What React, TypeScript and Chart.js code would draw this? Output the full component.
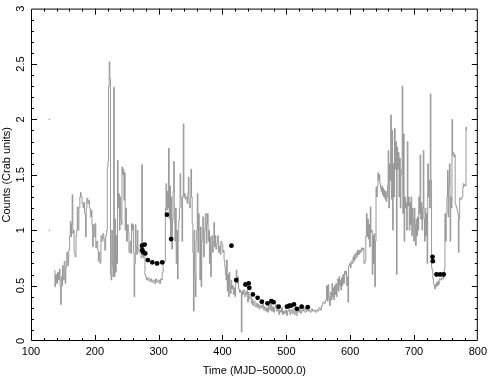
import React, { useEffect, useRef } from 'react';
import { Chart, registerables } from 'chart.js';

Chart.register(...registerables);

const xTickValues = [100, 200, 300, 400, 500, 600, 700, 800];
const yTickLabels = ['0', '0.5', '1', '1.5', '2', '2.5', '3'];
const xTitle = 'Time (MJD\u221250000.0)';
const yTitle = 'Counts (Crab units)';

// [MJD-50000, counts in Crab units]
const lightCurve: [number, number][] = [
  [137, 0.64], [138, 0.49], [139, 0.6], [141, 0.52], [142, 0.62], [144, 0.55], [145, 0.65], [146, 0.5],
  [147, 0.33], [148, 0.58], [149, 0.5], [150, 0.68], [151, 0.55], [153, 0.72], [154, 0.52], [155, 0.66],
  [157, 0.8], [158, 0.68], [160, 0.82], [161, 0.95], [162, 1.08], [163, 0.94], [164, 1.05], [165, 1.32],
  [166, 0.97], [167, 1.0], [168, 0.8], [170, 0.76], [171, 0.95], [172, 1.0], [173, 1.21], [174, 1.0],
  [176, 1.2], [177, 1.3], [178, 1.34], [179, 1.3], [181, 1.24], [182, 1.2], [183, 1.25], [185, 1.15],
  [186, 0.94], [187, 1.2], [188, 1.29], [190, 1.24], [191, 1.27], [192, 1.2], [194, 1.12], [195, 1.18],
  [196, 1.05], [197, 0.85], [198, 1.05], [200, 0.94], [201, 1.06], [202, 0.84], [204, 0.9], [205, 0.82],
  [206, 0.72], [207, 0.8], [209, 0.7], [210, 0.95], [212, 0.9], [213, 0.97], [215, 0.92], [216, 0.82],
  [218, 0.95], [219, 1.0], [220, 1.57], [221, 1.62], [222, 2.3], [223, 2.52], [224, 2.37], [225, 0.6],
  [226, 0.55], [227, 1.0], [228, 0.67], [229, 0.58], [230, 2.29], [231, 0.58], [232, 1.1], [233, 0.62],
  [234, 0.95], [235, 0.7], [236, 1.63], [237, 1.2], [238, 1.33], [239, 1.0], [240, 1.3], [241, 1.1],
  [242, 1.05], [243, 1.57], [244, 1.5], [245, 1.55], [246, 1.27], [247, 1.52], [248, 1.0], [249, 1.2],
  [250, 0.9], [252, 1.05], [253, 0.97], [254, 0.8], [256, 0.9], [257, 0.79], [258, 1.06], [259, 1.0],
  [260, 1.05], [261, 0.8], [262, 0.4], [263, 0.7], [264, 1.05], [265, 0.85], [266, 0.78], [267, 1.0],
  [268, 0.83], [270, 0.8], [272, 0.85], [273, 0.75], [274, 1.59], [275, 0.8], [276, 0.75], [277, 0.82],
  [278, 0.78], [279, 0.6], [280, 0.58], [282, 0.55], [284, 0.57], [286, 0.54], [288, 0.56], [290, 0.53],
  [292, 0.55], [294, 0.52], [296, 0.56], [298, 0.53], [300, 0.55], [302, 0.52], [304, 0.56], [305, 0.55],
  [306, 0.62], [308, 0.7], [310, 0.72], [311, 1.2], [312, 1.42], [313, 1.18], [314, 1.35], [315, 1.2],
  [316, 1.74], [317, 1.1], [318, 1.4], [319, 0.9], [320, 1.3], [321, 0.83], [322, 1.1], [323, 1.35],
  [324, 1.62], [325, 1.07], [326, 0.9], [327, 1.2], [328, 0.7], [329, 1.0], [330, 0.56], [331, 0.9],
  [332, 1.09], [333, 1.2], [334, 1.51], [335, 1.3], [336, 1.2], [337, 0.9], [338, 1.3], [339, 1.96],
  [340, 1.3], [341, 1.33], [342, 1.28], [344, 1.3], [345, 1.24], [346, 1.33], [347, 1.48], [348, 1.25],
  [349, 1.2], [350, 1.3], [351, 1.55], [352, 1.3], [353, 1.06], [354, 0.8], [355, 0.27], [356, 1.0],
  [357, 0.6], [358, 0.4], [359, 0.9], [360, 1.0], [361, 1.33], [362, 0.8], [363, 1.15], [364, 1.0],
  [365, 0.55], [366, 1.03], [367, 0.49], [368, 0.9], [370, 1.12], [371, 0.76], [372, 1.0], [374, 1.15],
  [375, 0.88], [376, 1.05], [377, 1.15], [378, 0.9], [379, 1.0], [380, 0.7], [381, 0.94], [382, 0.58],
  [383, 0.85], [384, 0.95], [385, 0.8], [386, 0.9], [387, 1.07], [388, 0.85], [389, 0.95], [390, 0.83],
  [392, 0.88], [393, 0.95], [394, 0.8], [396, 0.86], [397, 0.78], [398, 0.9], [400, 0.87], [401, 0.8],
  [402, 0.82], [403, 0.73], [404, 0.67], [405, 0.6], [406, 0.55], [407, 0.73], [408, 0.45], [409, 0.6],
  [410, 0.4], [411, 0.62], [412, 0.5], [413, 0.43], [414, 0.55], [415, 0.47], [416, 0.5], [418, 0.42],
  [419, 0.48], [420, 0.4], [421, 0.55], [422, 0.64], [423, 0.52], [424, 0.58], [426, 0.47], [427, 0.44],
  [428, 0.46], [429, 0.44], [430, 0.08], [431, 0.45], [432, 0.42], [434, 0.46], [436, 0.4], [437, 0.44],
  [438, 0.42], [439, 0.46], [440, 0.35], [441, 0.44], [442, 0.38], [444, 0.4], [446, 0.34], [447, 0.38],
  [448, 0.32], [450, 0.36], [452, 0.31], [454, 0.34], [455, 0.3], [457, 0.33], [458, 0.29], [460, 0.32],
  [462, 0.3], [463, 0.34], [465, 0.28], [466, 0.31], [468, 0.27], [470, 0.3], [471, 0.26], [473, 0.32],
  [475, 0.28], [476, 0.35], [478, 0.27], [479, 0.31], [481, 0.26], [482, 0.3], [484, 0.33], [485, 0.27],
  [487, 0.29], [489, 0.24], [490, 0.28], [492, 0.26], [493, 0.3], [495, 0.24], [496, 0.27], [498, 0.25],
  [500, 0.28], [501, 0.23], [503, 0.27], [505, 0.3], [506, 0.24], [508, 0.28], [510, 0.25], [511, 0.29],
  [513, 0.24], [515, 0.27], [516, 0.23], [518, 0.28], [520, 0.26], [521, 0.3], [523, 0.25], [525, 0.28],
  [526, 0.27], [528, 0.3], [530, 0.26], [532, 0.29], [534, 0.27], [536, 0.28], [538, 0.26], [540, 0.29],
  [542, 0.27], [544, 0.28], [546, 0.26], [548, 0.28], [550, 0.27], [552, 0.3], [554, 0.28], [556, 0.32],
  [558, 0.35], [560, 0.34], [562, 0.37], [564, 0.5], [565, 0.36], [566, 0.51], [567, 0.4], [568, 0.32],
  [570, 0.44], [571, 0.37], [572, 0.52], [573, 0.4], [574, 0.48], [575, 0.37], [576, 0.5], [577, 0.42],
  [578, 0.52], [579, 0.4], [580, 0.47], [581, 0.56], [582, 0.45], [583, 0.58], [584, 0.5], [585, 0.55],
  [586, 0.46], [587, 0.57], [588, 0.5], [589, 0.6], [590, 0.52], [592, 0.63], [593, 0.6], [594, 0.63],
  [595, 0.5], [596, 0.58], [597, 0.35], [598, 0.68], [600, 0.7], [601, 0.66], [602, 0.72], [604, 0.7],
  [605, 0.76], [606, 0.72], [607, 0.78], [608, 0.74], [610, 0.8], [611, 0.76], [612, 0.82], [614, 0.78],
  [615, 0.82], [617, 0.8], [618, 0.84], [620, 0.82], [621, 0.84], [622, 0.7], [624, 0.72], [625, 0.95],
  [626, 1.15], [627, 0.94], [628, 1.1], [629, 0.92], [630, 1.05], [631, 0.85], [632, 1.21], [633, 0.98],
  [634, 1.0], [635, 0.6], [636, 0.95], [637, 0.7], [638, 0.97], [639, 0.49], [640, 0.9], [641, 1.39],
  [642, 1.3], [643, 1.39], [644, 1.52], [645, 1.45], [646, 1.5], [647, 1.42], [648, 1.38], [649, 1.35],
  [650, 1.4], [651, 1.32], [652, 1.38], [653, 1.3], [654, 1.36], [655, 1.28], [656, 1.35], [657, 1.26],
  [658, 1.3], [659, 1.4], [660, 1.72], [661, 1.2], [662, 1.6], [663, 1.45], [664, 2.04], [665, 1.28],
  [666, 1.9], [667, 1.0], [668, 1.6], [669, 1.3], [670, 1.92], [671, 1.55], [672, 1.8], [673, 0.6],
  [674, 1.75], [675, 1.55], [676, 1.7], [677, 1.3], [678, 1.65], [679, 1.2], [680, 1.5], [681, 1.55],
  [682, 2.3], [683, 1.15], [684, 1.87], [685, 0.9], [686, 1.3], [687, 1.2], [688, 1.25], [689, 1.0],
  [690, 1.8], [691, 1.22], [692, 1.3], [693, 1.0], [694, 1.25], [695, 1.05], [696, 1.3], [697, 0.95],
  [698, 1.2], [699, 1.1], [700, 0.9], [701, 1.2], [702, 1.05], [703, 0.86], [704, 1.1], [705, 0.95],
  [706, 1.12], [707, 1.0], [708, 1.3], [709, 1.15], [710, 1.68], [711, 1.1], [712, 1.25], [713, 1.0],
  [714, 1.2], [715, 1.72], [716, 1.1], [717, 0.9], [718, 1.2], [719, 0.95], [720, 1.15], [721, 0.7],
  [722, 1.6], [723, 1.3], [724, 1.45], [725, 1.2], [726, 2.23], [727, 1.45], [728, 0.66], [729, 0.64],
  [730, 0.56], [731, 0.52], [732, 0.5], [733, 0.47], [734, 0.51], [735, 0.49], [736, 0.53], [737, 0.5],
  [738, 0.54], [739, 0.51], [740, 0.56], [742, 0.55], [744, 0.57], [746, 0.56], [747, 0.6], [748, 0.65],
  [749, 1.15], [750, 0.9], [751, 1.15], [752, 1.3], [753, 1.54], [754, 1.12], [755, 1.4], [756, 1.6],
  [757, 0.9], [758, 1.3], [759, 1.2], [760, 2.0], [761, 1.68], [762, 1.7], [763, 1.66], [764, 1.68],
  [765, 1.24], [766, 1.22], [767, 1.2], [768, 1.18], [769, 1.15], [770, 0.8], [771, 1.1], [772, 1.29],
  [774, 1.28], [776, 1.3], [777, 1.39], [778, 1.42], [779, 1.4], [780, 1.41], [781, 1.4], [782, 1.93],
  [783, 1.9],
];

// separate pointed measurements (black dots)
const pointedObs: [number, number][] = [
  [274, 0.86], [274.5, 0.82], [276, 0.8], [278, 0.87], [279, 0.79], [283, 0.73], [290, 0.71],
  [297.5, 0.7], [305.5, 0.71], [313, 1.14], [319.6, 0.92], [414, 0.86], [421.5, 0.55], [436, 0.51],
  [441, 0.52], [442, 0.48], [447.6, 0.42], [455, 0.39], [461.6, 0.355], [470.5, 0.34], [476.5, 0.36],
  [480, 0.35], [488, 0.31], [501, 0.31], [504.7, 0.32], [507.5, 0.32], [512, 0.33], [516.5, 0.29],
  [524, 0.31], [533.5, 0.305], [729, 0.76], [729.5, 0.72], [735.3, 0.6], [741, 0.6], [746.5, 0.6],
];

const strayMarks: [number, number][] = [[128.8, 2.0], [128.8, 1.0]];

const FONT = { family: "'Liberation Sans', Arial, sans-serif", size: 11 };

const frameTicks = {
  id: 'frameTicks',
  afterDatasetsDraw(chart: any) {
    const { ctx, chartArea, scales } = chart;
    const { left, right, top, bottom } = chartArea;
    const xs = scales.x;
    const ys = scales.y;
    ctx.save();
    ctx.strokeStyle = '#000';
    ctx.lineWidth = 1;
    ctx.beginPath();
    ctx.rect(left + 0.5, top + 0.5, right - left - 1, bottom - top - 1);
    ctx.stroke();
    ctx.beginPath();
    for (let i = 5; i <= 40; i++) {
      const v = i * 20;
      if (v <= xs.min || v >= xs.max) continue;
      const p = Math.round(xs.getPixelForValue(v)) + 0.5;
      const len = v % 100 === 0 ? 6 : 3;
      ctx.moveTo(p, bottom);
      ctx.lineTo(p, bottom - len);
      ctx.moveTo(p, top);
      ctx.lineTo(p, top + len);
    }
    for (let i = 1; i < 30; i++) {
      const v = i / 10;
      const p = Math.round(ys.getPixelForValue(v)) + 0.5;
      const len = i % 5 === 0 ? 6 : 3;
      ctx.moveTo(left, p);
      ctx.lineTo(left + len, p);
      ctx.moveTo(right, p);
      ctx.lineTo(right - len, p);
    }
    ctx.stroke();
    ctx.restore();
  },
};

export default function App() {
  const ref = useRef<HTMLCanvasElement | null>(null);
  useEffect(() => {
    if (!ref.current) return;
    const chart = new Chart(ref.current, {
      type: 'scatter',
      data: {
        datasets: [
          {
            data: pointedObs.map(([x, y]) => ({ x, y })),
            pointRadius: 2.4,
            pointBackgroundColor: '#000',
            pointBorderWidth: 0,
            showLine: false,
          },
          {
            data: strayMarks.map(([x, y]) => ({ x, y })),
            pointRadius: 0.8,
            pointBackgroundColor: '#aaa',
            pointBorderWidth: 0,
            showLine: false,
          },
          {
            data: lightCurve.map(([x, y]) => ({ x, y })),
            showLine: true,
            stepped: 'middle',
            borderColor: '#8e8e8e',
            borderWidth: 0.9,
            pointRadius: 0,
            fill: false,
          } as any,
        ],
      },
      options: {
        animation: false,
        responsive: false,
        devicePixelRatio: 1,
        layout: { padding: { left: 0, top: 7, right: 10, bottom: 0 } },
        plugins: { legend: { display: false }, tooltip: { enabled: false } },
        scales: {
          x: {
            type: 'linear',
            min: 100,
            max: 800,
            afterBuildTicks: (s: any) => {
              s.ticks = xTickValues.map((v) => ({ value: v }));
            },
            afterFit: (s: any) => {
              s.height = 37;
            },
            ticks: { font: FONT, color: '#000', padding: 4, maxRotation: 0, autoSkip: false },
            grid: { display: false, drawTicks: false, tickLength: 0 },
            border: { display: false },
            title: { display: true, text: xTitle, font: FONT, color: '#000', padding: { top: 0, bottom: 0 } },
          },
          y: {
            type: 'linear',
            min: 0,
            max: 3,
            afterBuildTicks: (s: any) => {
              s.ticks = yTickLabels.map((l) => ({ value: Number(l) }));
            },
            afterFit: (s: any) => {
              s.width = 31;
            },
            ticks: {
              font: FONT,
              color: '#000',
              padding: 2,
              minRotation: 90,
              maxRotation: 90,
              crossAlign: 'center',
              autoSkip: false,
              callback: (_v: any, i: number) => yTickLabels[i],
            },
            grid: { display: false, drawTicks: false, tickLength: 0 },
            border: { display: false },
            title: { display: true, text: yTitle, font: FONT, color: '#000', padding: { top: 0, bottom: 0 } },
          },
        },
      },
      plugins: [frameTicks],
    } as any);
    return () => chart.destroy();
  }, []);
  return (
    <div style={{ position: 'absolute', left: 0, top: 0, width: 491, height: 378, background: '#fff' }}>
      <canvas ref={ref} width={491} height={378} style={{ display: 'block' }} />
    </div>
  );
}
